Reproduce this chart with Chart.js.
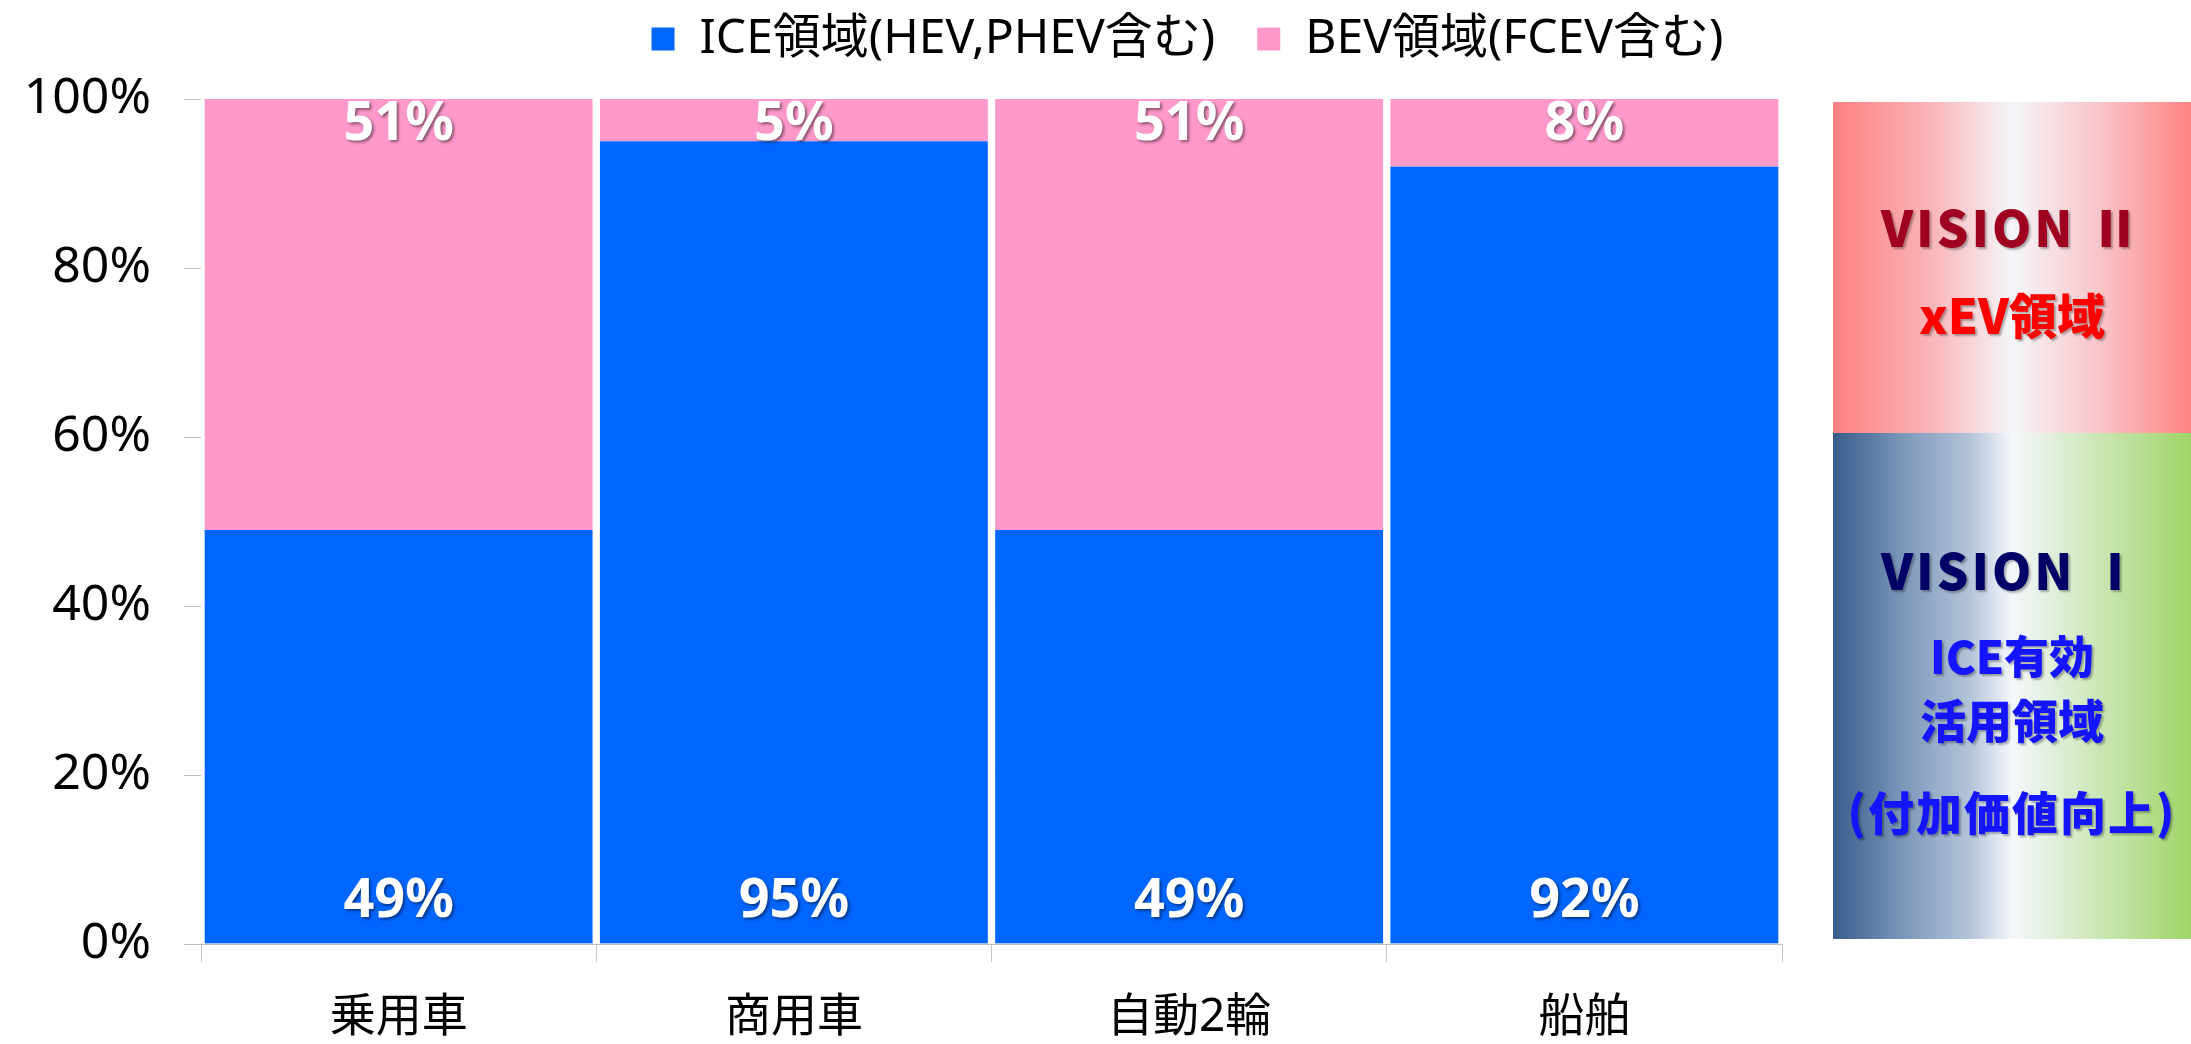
<!DOCTYPE html>
<html lang="ja">
<head>
<meta charset="utf-8">
<script src="https://cdn.jsdelivr.net/npm/chart.js@4.4.1/dist/chart.umd.min.js"></script>
<style>
  html, body { margin: 0; padding: 0; background: #fff; overflow: hidden; }
  #wrap { position: relative; width: 2191px; height: 1044px; }
  #myChart { position: absolute; left: 0; top: 0; }
  .panel { position: absolute; left: 1833px; width: 358px; font-family: "Noto Sans CJK JP", sans-serif; font-weight: 900; text-align: center; }
  #vision2 { top: 102px; height: 331px; background: linear-gradient(to right, #ff8080 0%, #f9b6ba 28%, #f4f6f9 50%, #f8c6ca 74%, #ff8484 100%); }
  #vision1 { top: 433px; height: 506px; background: linear-gradient(to right, #385c8b 0%, #7d98ba 20%, #b3c3d8 38%, #f4f7fb 50%, #d6ebc8 68%, #a0d468 100%); }
  .line { position: absolute; left: -20px; width: calc(100% + 40px); height: 56px; line-height: 56px; white-space: nowrap; text-shadow: 2px 2px 2px rgba(0,0,0,0.3); }
</style>
</head>
<body>
<div id="wrap">
  <canvas id="myChart" width="2191" height="1044"></canvas>
  <div class="panel" id="vision2">
    <div class="line" style="top:95px;color:#a0001f;font-size:50px;letter-spacing:3px;">VISION Ⅱ</div>
    <div class="line" style="top:183px;color:#ff0000;font-size:48px;">xEV領域</div>
    </div>
  <div class="panel" id="vision1">
    <div class="line" style="top:107px;color:#000066;font-size:50px;letter-spacing:3px;">VISION Ⅰ</div>
    <div class="line" style="top:194px;color:#1414ff;font-size:45px;">ICE有効</div>
    <div class="line" style="top:257px;color:#1414ff;font-size:46px;">活用領域</div>
    <div class="line" style="top:349px;color:#1414ff;font-size:46px;letter-spacing:2px;">(付加価値向上)</div>
  </div>
</div>
<script>
const categories = ['乗用車', '商用車', '自動2輪', '船舶'];
const iceShare = [49, 95, 49, 92];
const bevShare = [51, 5, 51, 8];
const seriesNames = ['ICE領域(HEV,PHEV含む)', 'BEV領域(FCEV含む)'];
const yTicks = [0, 20, 40, 60, 80, 100];

const FONT = '"Noto Sans", "Noto Sans CJK JP", sans-serif';

// white % labels inside the bars
const barLabels = {
  id: 'barLabels',
  afterDatasetsDraw(chart) {
    const ctx = chart.ctx;
    ctx.save();
    ctx.font = 'bold 54px ' + FONT;
    ctx.fillStyle = '#fff';
    ctx.textAlign = 'center';
    ctx.textBaseline = 'middle';
    ctx.shadowColor = 'rgba(0,0,0,0.45)';
    ctx.shadowOffsetX = 2;
    ctx.shadowOffsetY = 2;
    ctx.shadowBlur = 3;
    chart.data.datasets.forEach((ds, i) => {
      chart.getDatasetMeta(i).data.forEach((bar, j) => {
        const y = i === 0 ? bar.base - 42 : bar.y + 26;
        ctx.fillText(ds.data[j] + '%', bar.x, y);
      });
    });
    ctx.restore();
  }
};

// legend sits off-centre in the original
const moveLegend = {
  id: 'moveLegend',
  afterLayout(chart) {
    const lg = chart.legend;
    lg.left += 296; lg.right += 296;
    lg.top -= 26; lg.bottom -= 26;
  }
};

const barBorder = {left: 4, right: 4, top: 0, bottom: 0};

const data = {
  labels: categories,
  datasets: [
    {label: seriesNames[0], data: iceShare, backgroundColor: '#0066ff', borderColor: '#ffffff', borderWidth: barBorder, borderSkipped: false},
    {label: seriesNames[1], data: bevShare, backgroundColor: '#ff99cc', borderColor: '#ffffff', borderWidth: barBorder, borderSkipped: false}
  ]
};

const config = {
  type: 'bar',
  data,
  options: {
    responsive: false,
    animation: false,
    devicePixelRatio: 1,
    events: [],
    layout: {padding: {left: 0, right: 409, top: 0, bottom: 0}},
    datasets: {bar: {categoryPercentage: 1, barPercentage: 1}},
    plugins: {
      tooltip: {enabled: false},
      legend: {
        position: 'top',
        labels: {
          boxWidth: 25,
          boxHeight: 25,
          padding: 41,
          color: '#000',
          font: {family: FONT, size: 48}
        }
      }
    },
    scales: {
      x: {
        stacked: true,
        grid: {drawOnChartArea: false, tickLength: 18, color: '#c8c8c8'},
        border: {color: '#bfbfbf'},
        ticks: {color: '#000', padding: 28, font: {family: FONT, size: 46}},
        afterFit(scale) { scale.height = 100; }
      },
      y: {
        stacked: true,
        min: 0,
        max: 100,
        grid: {color: '#d9d9d9', tickLength: 17, tickColor: '#bfbfbf'},
        border: {color: '#bfbfbf'},
        ticks: {color: '#000', padding: 33, font: {family: FONT, size: 50}, callback: v => v + '%'},
        afterBuildTicks(scale) { scale.ticks = yTicks.map(v => ({value: v})); },
        afterFit(scale) { scale.width = 201; }
      }
    }
  },
  plugins: [barLabels, moveLegend]
};

const myChart = new Chart(document.getElementById('myChart'), config);
</script>
</body>
</html>
